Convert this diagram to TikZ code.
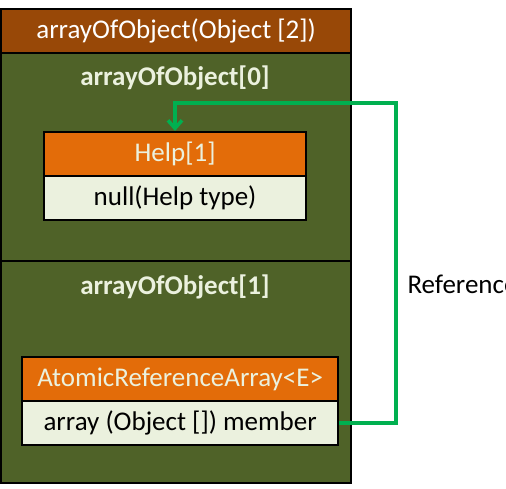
\documentclass[tikz,border=0pt]{standalone}
\usepackage{fontspec}
\setmainfont{Carlito}
\usetikzlibrary{arrows.meta}
\definecolor{brownbar}{HTML}{984807}
\definecolor{olive}{HTML}{4F6228}
\definecolor{orangebox}{HTML}{E36C09}
\definecolor{lightbox}{HTML}{EBF1DE}
\definecolor{refgreen}{HTML}{00B050}
\tikzset{
  panel/.style={draw=black, line width=2.2pt},
  boxpart/.style={draw=black, line width=2.2pt, minimum width=#1, minimum height=44pt, inner sep=0pt, anchor=north west, font=\fontsize{27}{32}\selectfont},
  reflink/.style={draw=refgreen, line width=3.5pt}
}
\begin{document}
\begin{tikzpicture}[x=1pt,y=-1pt]
\useasboundingbox (0,0) rectangle (506,489);
% outer panels
\node[panel, fill=brownbar, minimum width=350pt, minimum height=44pt, inner sep=0pt, anchor=north west, text=white, font=\fontsize{27}{32}\selectfont] (title) at (0,8) {arrayOfObject(Object [2])};
\node[panel, fill=olive, minimum width=350pt, minimum height=208pt, inner sep=0pt, anchor=north west] (p0) at (0,52) {};
\node[panel, fill=olive, minimum width=350pt, minimum height=222pt, inner sep=0pt, anchor=north west] (p1) at (0,260) {};
\node[text=lightbox, font=\bfseries\fontsize{27}{32}\selectfont] (l0) at (175,78) {arrayOfObject[0]};
\node[text=lightbox, font=\bfseries\fontsize{27}{32}\selectfont] (l1) at (175,287) {arrayOfObject[1]};
% Help box
\node[boxpart=262pt, fill=orangebox, text=lightbox] (help) at (43,131) {Help[1]};
\node[boxpart=262pt, fill=lightbox, text=black] (helpv) at (43,175) {null(Help type)};
% Atomic box
\node[boxpart=316pt, fill=orangebox, text=lightbox] (atom) at (21,356) {AtomicReferenceArray<E>};
\node[boxpart=316pt, fill=lightbox, text=black] (atomv) at (21,400) {array (Object []) member};
% reference connector
\coordinate (c1) at (396,423);
\coordinate (c2) at (396,103);
\coordinate (c3) at (175,103);
\draw[reflink, -{Straight Barb[length=8pt,width=14pt,line width=3.5pt]}] (atomv.east |- c1) -- (c1) -- (c2) -- (c3) -- (help.north -| c3);
\node[anchor=west, font=\fontsize{27}{32}\selectfont] (ref) at (404,284) {Reference};
\end{tikzpicture}
\end{document}
